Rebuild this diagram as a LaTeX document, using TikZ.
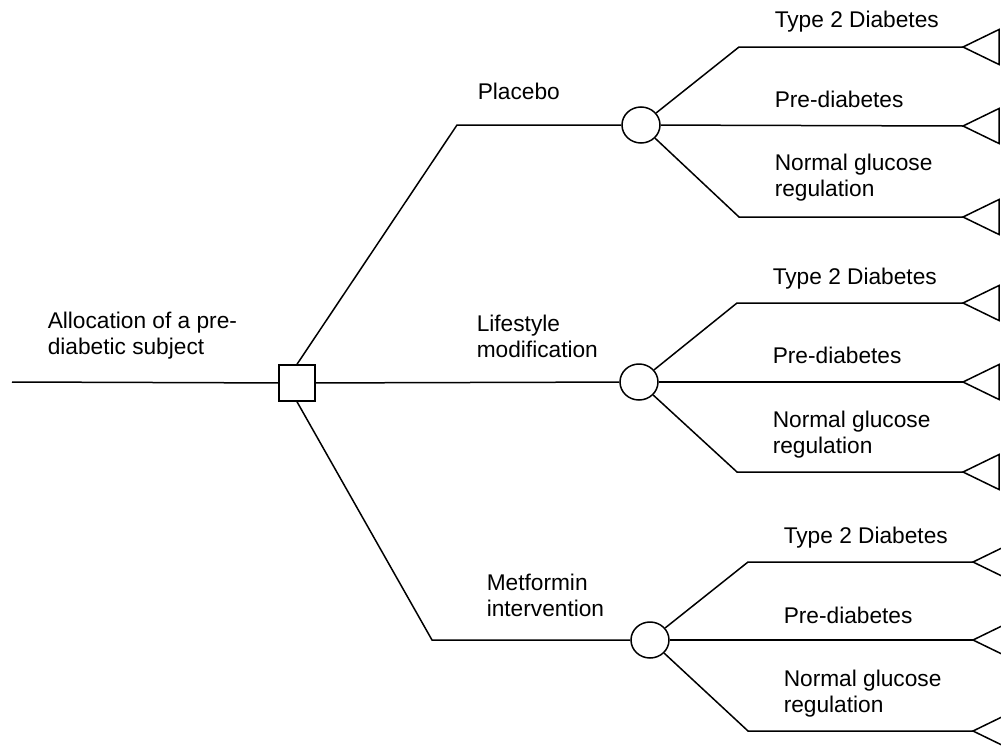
\documentclass[tikz,border=0pt]{standalone}
\usepackage{fontspec}
\setmainfont{Liberation Sans}
\usetikzlibrary{shapes.geometric}
\begin{document}
\begin{tikzpicture}[x=1pt,y=-1pt,
  line width=1.5pt, line join=miter,
  lbl/.style={anchor=base west, inner sep=0pt, align=left, font=\fontsize{22.7}{25.5}\selectfont},
  decision/.style={draw, rectangle, minimum size=36pt, inner sep=0pt, fill=white},
  chance/.style={draw, ellipse, minimum width=38pt, minimum height=36pt, inner sep=0pt, fill=white},
  term/.style={line join=miter}
]
\useasboundingbox (0,0) rectangle (1001,747);
% nodes
\coordinate (s) at (12,382);
\node[decision] (d) at (297,383) {};
\node[chance] (c1) at (641,125) {};
\node[chance] (c2) at (639,382) {};
\node[chance] (c3) at (650,640) {};
\coordinate (p1) at (457,125);
\coordinate (p3) at (432,640);
% outcome bends
\coordinate (o11) at (739,47);  \coordinate (o13) at (739,217);
\coordinate (o21) at (737,303); \coordinate (o23) at (737,472);
\coordinate (o31) at (748,562); \coordinate (o33) at (748,731);
% triangle tips
\coordinate (t11) at (963,47);  \coordinate (t12) at (963,126); \coordinate (t13) at (963,217);
\coordinate (t21) at (963,303); \coordinate (t22) at (963,382); \coordinate (t23) at (963,472);
\coordinate (t31) at (973,562); \coordinate (t32) at (973,640); \coordinate (t33) at (973,731);
% connectors
\draw (s) -- (d);
\draw (d.north) -- (p1) -- (c1);
\draw (d) -- (c2);
\draw (d.south) -- (p3) -- (c3);
\draw (c1) -- (o11) -- (t11);
\draw (c1) -- (t12);
\draw (c1) -- (o13) -- (t13);
\draw (c2) -- (o21) -- (t21);
\draw (c2) -- (t22);
\draw (c2) -- (o23) -- (t23);
\draw (c3) -- (o31) -- (t31);
\draw (c3) -- (t32);
\draw (c3) -- (o33) -- (t33);
% terminal triangles
\foreach \t in {t11,t12,t13,t21,t22,t23,t31,t32,t33}{
  \draw[term] (\t) -- ++(36,-17.5) -- ++(0,35) -- cycle;
}
% labels (two-line labels are placed by their last baseline)
\node[lbl] (la) at (47,354) {Allocation of a pre-\\diabetic subject};
\node[lbl] (l1) at (477,99) {Placebo};
\node[lbl] (l2) at (476,357) {Lifestyle\\modification};
\node[lbl] (l3) at (486,616) {Metformin\\intervention};
\node[lbl] (a1) at (774,27) {Type 2 Diabetes};
\node[lbl] (a2) at (774,107) {Pre-diabetes};
\node[lbl] (a3) at (774,196) {Normal glucose\\regulation};
\node[lbl] (b1) at (772,284) {Type 2 Diabetes};
\node[lbl] (b2) at (772,363) {Pre-diabetes};
\node[lbl] (b3) at (772,453) {Normal glucose\\regulation};
\node[lbl] (e1) at (783,543) {Type 2 Diabetes};
\node[lbl] (e2) at (783,623) {Pre-diabetes};
\node[lbl] (e3) at (783,712) {Normal glucose\\regulation};
\end{tikzpicture}
\end{document}
